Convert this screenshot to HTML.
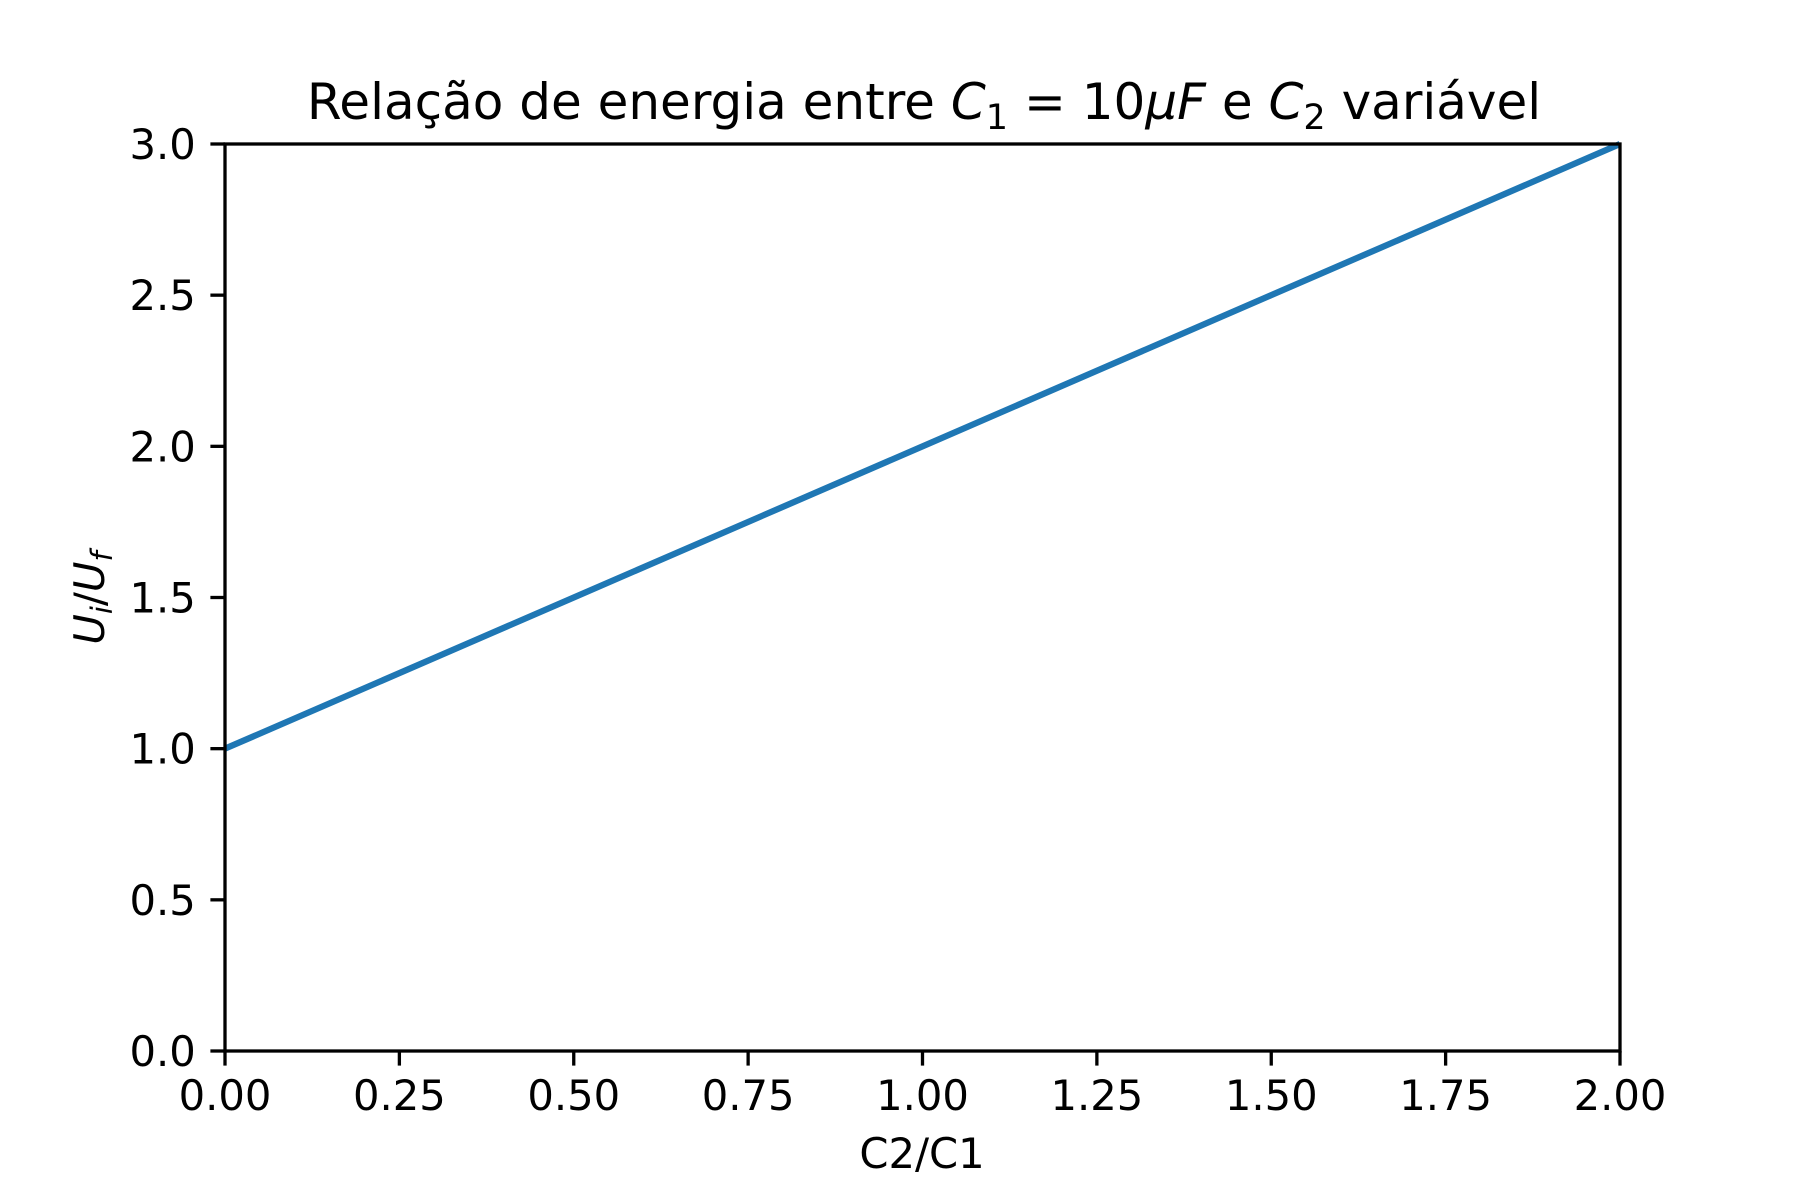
<!DOCTYPE html>
<html><head><meta charset="utf-8"><style>
html,body{margin:0;padding:0;background:#fff}
svg{display:block;font-family:"DejaVu Sans","Liberation Sans",sans-serif}
</style></head><body>
<svg id="chart" width="1800" height="1200" viewBox="0 0 1800 1200" xmlns="http://www.w3.org/2000/svg">
<rect width="1800" height="1200" fill="#fff"/>
<text x="924" y="119" font-size="50" text-anchor="middle" fill="#000">Relação de energia entre <tspan font-style="italic">C</tspan><tspan font-size="35" dy="10">1</tspan><tspan dy="-10"> = 10</tspan><tspan font-style="italic">μF</tspan> e <tspan font-style="italic">C</tspan><tspan font-size="35" dy="10">2</tspan><tspan dy="-10"> variável</tspan></text>
<g id="xticks"></g>
<g id="yticks"></g>
<g id="series"></g>
<rect x="225" y="144" width="1395" height="907" fill="none" stroke="#000" stroke-width="3.3"/>
<text x="922" y="1168" font-size="41.7" text-anchor="middle">C2/C1</text>
<text transform="translate(104,598) rotate(-90)" font-size="41.7" text-anchor="middle"><tspan font-style="italic">U</tspan><tspan font-style="italic" font-size="29" dy="8">i</tspan><tspan dy="-8">/</tspan><tspan font-style="italic">U</tspan><tspan font-style="italic" font-size="29" dy="8">f</tspan></text>
</svg>
<script>
const xValues=[0,0.5,1,1.5,2];
const yValues=[1,1.5,2,2.5,3];
const xTickLabels=["0.00","0.25","0.50","0.75","1.00","1.25","1.50","1.75","2.00"];
const yTickLabels=["0.0","0.5","1.0","1.5","2.0","2.5","3.0"];
const NS="http://www.w3.org/2000/svg";
const L=225,R=1620,T=144,B=1051,xMin=0,xMax=2,yMin=0,yMax=3;
const sx=v=>L+(v-xMin)/(xMax-xMin)*(R-L);
const sy=v=>B-(v-yMin)/(yMax-yMin)*(B-T);
const xg=document.getElementById('xticks'),yg=document.getElementById('yticks'),sg=document.getElementById('series');
xTickLabels.forEach(t=>{const v=parseFloat(t),x=sx(v);
const l=document.createElementNS(NS,'line');


l.setAttribute('x1',x);l.setAttribute('x2',x);l.setAttribute('y1',B);l.setAttribute('y2',B+14.6);l.setAttribute('stroke','#000');l.setAttribute('stroke-width','3.3');xg.appendChild(l);
const tx=document.createElementNS(NS,'text');


tx.setAttribute('x',x);tx.setAttribute('y',B+14.6+14.6+30);tx.setAttribute('font-size','41.7');tx.setAttribute('text-anchor','middle');tx.textContent=t;xg.appendChild(tx);});
yTickLabels.forEach(t=>{const v=parseFloat(t),y=sy(v);
const l=document.createElementNS(NS,'line');


l.setAttribute('x1',L-14.6);l.setAttribute('x2',L);l.setAttribute('y1',y);l.setAttribute('y2',y);l.setAttribute('stroke','#000');l.setAttribute('stroke-width','3.3');yg.appendChild(l);
const tx=document.createElementNS(NS,'text');


tx.setAttribute('x',L-14.6-14.6);tx.setAttribute('y',y+15);tx.setAttribute('font-size','41.7');tx.setAttribute('text-anchor','end');tx.textContent=t;yg.appendChild(tx);});
const p=document.createElementNS(NS,'polyline');


p.setAttribute('points',xValues.map((x,i)=>sx(x)+','+sy(yValues[i])).join(' '));
p.setAttribute('fill','none');p.setAttribute('stroke','#1f77b4');p.setAttribute('stroke-width','6.25');p.setAttribute('stroke-linecap','butt');
sg.appendChild(p);
</script>
</body></html>
